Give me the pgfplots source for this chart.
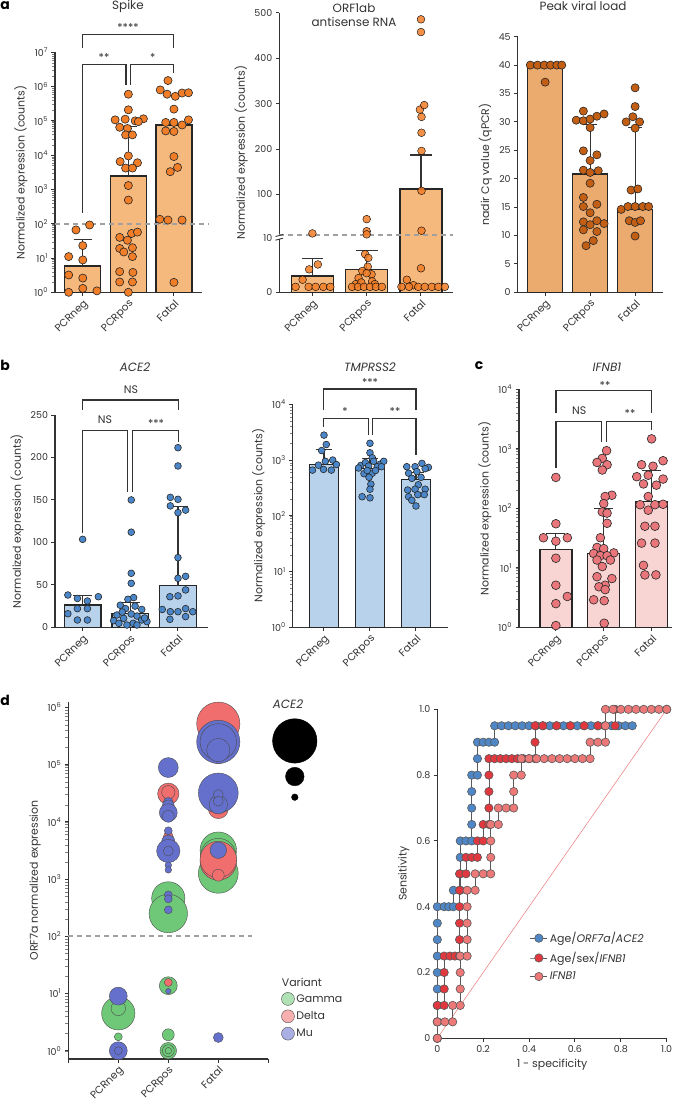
\documentclass[border=0pt]{standalone}
\usepackage{fontspec}
\setmainfont{Poppins}
\usepackage{pgfplots}
\pgfplotsset{compat=1.18}

\definecolor{axgray}{HTML}{333333}
\definecolor{orbar}{HTML}{F5B97D}
\definecolor{orpt}{HTML}{F07D28}
\definecolor{pkbar}{HTML}{EBAA6E}
\definecolor{pkpt}{HTML}{C35F14}
\definecolor{blbar}{HTML}{B9D2EB}
\definecolor{blpt}{HTML}{4B87C8}
\definecolor{ifbar}{HTML}{F8D4D2}
\definecolor{ifpt}{HTML}{E8767A}
\definecolor{dashgray}{HTML}{A0A0A0}
\definecolor{gcol}{HTML}{6EC878}
\definecolor{dcol}{HTML}{F06E6E}
\definecolor{mcol}{HTML}{6470CC}
\definecolor{rocblue}{HTML}{4F86C6}
\definecolor{rocred}{HTML}{E0383E}
\definecolor{rocpink}{HTML}{EC7878}

\newcommand{\tk}{\fontsize{9.5}{10.5}\selectfont}
\newcommand{\xtk}{\fontsize{10.5}{11.5}\selectfont}
\newcommand{\lb}{\fontsize{11}{12}\selectfont}

\pgfplotsset{
  panel/.style={
    scale only axis, anchor=south west,
    axis lines=left,
    axis line style={-, axgray, line width=1.3pt},
    tick align=outside, major tick length=3.5bp,
    major tick style={axgray, line width=1pt},
    tick label style={font=\tk, text=axgray},
    label style={font=\lb, text=axgray},
    /pgf/number format/assume math mode=true,
    clip=false,
  },
  cat/.style={xtick={0,1,2}, xticklabels={PCRneg,PCRpos,Fatal},
    xticklabel style={rotate=45, anchor=north east, inner sep=2bp, font=\xtk}},
  pts/.style={only marks, mark=*, mark size=#1, mark options={draw=black!85, line width=0.6pt}},
  barst/.style={ybar, bar width=#1, draw=black!85, line width=1.4pt},
  errl/.style={black!80, line width=1.1pt, unbounded coords=jump},
  thr/.style={dashgray, line width=1.6pt, dash pattern=on 5bp off 4bp},
}

\begin{document}
\begin{tikzpicture}
\path[use as bounding box] (0,0) rectangle (685bp,-1109bp);

% ---------------- a: Spike
\begin{axis}[panel, cat, at={(55bp,-292.3bp)}, width=146.7bp, height=240bp,
  xmin=-0.61, xmax=2.61, ymode=log, ymin=1, ymax=1e7,
  ytick={1,10,100,1000,1e4,1e5,1e6,1e7},
  yticklabels={10\textsuperscript{0},10\textsuperscript{1},10\textsuperscript{2},10\textsuperscript{3},10\textsuperscript{4},10\textsuperscript{5},10\textsuperscript{6},10\textsuperscript{7}},
  ylabel={Normalized expression (counts)}]
\addplot[barst=36bp, fill=orbar] coordinates {(0,5.9) (1,2500) (2,7.6e4)};
\addplot[errl] coordinates {(0,5.9)(0,34)(0,nan)(-0.2,34)(0.2,34)(0.2,nan)
  (1,2500)(1,7e4)(1,nan)(0.8,7e4)(1.2,7e4)};
\addplot[thr] coordinates {(-0.61,100) (2.75,100)};
\addplot[pts=4.1, fill=orpt] table {
x y
-0.15 66
0.15 92
0 23
-0.31 11
0 8.8
-0.31 3.2
0 2.6
-0.31 1.0
0 1.3
0.31 1.1
1 6e5
1 2.1e5
0.71 1.07e5
0.93 1.12e5
1.15 1.0e5
1.33 1.15e5
1.22 9.5e4
0.81 6.5e4
0.98 6.0e4
0.94 3.9e4
1.09 3.9e4
1 9.5e3
0.82 6.5e3
1.2 6.0e3
0.94 4.2e3
1.09 4.2e3
1 1.3e3
1 490
1.07 52
1.2 57
0.81 40
0.98 33
0.81 19
1.09 20
0.9 15
1.09 11
0.81 4.0
1.1 3.8
0.81 2.0
1.09 2.0
1 1.0
1.87 1.5e6
1.7 8e5
1.85 6e5
2.03 5.2e5
2.18 6.5e5
2.32 6.6e5
2 2.2e5
1.82 9e4
2 9e4
2.18 7.6e4
2.32 1.07e5
1.82 5.1e4
2 4.9e4
2 9.1e3
2.08 4.4e3
1.92 3.3e3
1.69 135
1.87 128
2.18 128
2 1.95
};
\end{axis}

% ---------------- a: ORF1ab antisense (broken axis)
\begin{axis}[panel, cat, at={(279.3bp,-292.3bp)}, width=173.7bp, height=279.3bp,
  xmin=-0.61, xmax=2.59, ymin=0, ymax=500,
  y coord trafo/.code={\pgfmathparse{(#1<=10) ? #1 : 10.45+(#1-10)*0.0831}},
  y coord inv trafo/.code={\pgfmathparse{(#1<=10) ? #1 : 10+(#1-10.45)/0.0831}},
  ytick={0,10,100,200,300,400,500}, yticklabels={0,10,100,200,300,400,500},
  ylabel={Normalized expression (counts)}]
\addplot[barst=42bp, fill=orbar] coordinates {(0,3.0) (1,4.2) (2,111.7)};
\addplot[errl] coordinates {(0,3.0)(0,6.2)(0,nan)(-0.2,6.2)(0.2,6.2)(0.2,nan)
  (1,4.2)(1,7.6)(1,nan)(0.8,7.6)(1.2,7.6)(1.2,nan)
  (2,111.7)(2,187)(2,nan)(1.8,187)(2.2,187)};
\addplot[thr] coordinates {(-0.61,10.2) (2.59,10.2)};
\addplot[pts=3.9, fill=orpt, mark options={fill opacity=0.85}] table {
x y
0 14.1
0.1 5.1
-0.06 4.2
-0.18 2.3
-0.31 1.0
-0.07 1.0
0.06 1.0
0.2 1.0
0.33 1.0
1 45.5
1 19
1 12
0.97 7.0
1.03 6.3
1.02 4.7
0.92 3.9
1.09 3.3
0.85 2.6
1.0 3.5
1.1 2.0
0.8 1.5
0.9 1.8
1.15 1.5
0.73 1.0
0.84 1.0
0.95 1.0
1.06 1.0
1.17 1.0
1.28 1.0
2 486
2 458
1.98 287
2.06 297
2.01 271
2.01 236
2.01 196
2.01 108
2.01 20
2.0 4.4
1.74 2.3
1.86 1.3
1.64 1.0
1.78 1.0
1.95 1.0
2.07 1.0
2.2 1.0
2.32 1.0
2.44 1.0
};
\end{axis}

% ---------------- a: Peak viral load
\begin{axis}[panel, cat, at={(517.7bp,-292.3bp)}, width=145.3bp, height=255.6bp,
  xmin=-0.61, xmax=2.62, ymin=0, ymax=45, ytick={0,5,...,45},
  ylabel={nadir Cq value (qPCR)}]
\addplot[barst=35bp, fill=pkbar] coordinates {(0,40) (1,20.8) (2,14.6)};
\addplot[errl] coordinates {(1,20.8)(1,29.5)(1,nan)(0.85,29.5)(1.15,29.5)(1.15,nan)
  (2,14.6)(2,29)(2,nan)(1.85,29)(2.15,29)};
\addplot[pts=4.1, fill=pkpt] table {
x y
-0.33 40
-0.17 40
-0.02 40
0.12 40
0.26 40
0.37 40
0 37
0.85 31.9
0.69 30.3
0.85 30.2
1 30.5
1.15 31.0
1.31 31.4
1 29.0
0.85 24.9
1.15 24.2
1 23.2
0.85 21.5
1 21.1
1.18 21.4
1 19.2
0.85 16.7
0.85 15.1
1.15 15.5
1 14.0
0.85 12.4
1.15 12.6
1.31 12.1
1 11.9
0.85 11.0
1.15 10.7
1.07 9.1
0.91 8.2
2 36.0
2 32.7
1.8 30.0
1.95 30.9
2.1 30.0
2 28.9
1.91 18.0
2.06 18.2
1.69 14.6
1.84 15.1
2 15.1
2.17 15.1
2.3 15.1
1.87 12.6
2 12.3
2.12 12.6
2 9.9
};
\end{axis}

% ---------------- b: ACE2
\begin{axis}[panel, cat, at={(55bp,-627.3bp)}, width=153bp, height=212.3bp,
  xmin=-0.58, xmax=2.63, ymin=0, ymax=250, ytick={0,50,...,250},
  ylabel={Normalized expression (counts)}]
\addplot[barst=36.5bp, fill=blbar] coordinates {(0,26.3) (1,16.5) (2,49)};
\addplot[errl] coordinates {(0,26.3)(0,37)(0,nan)(-0.2,37)(0.2,37)(0.2,nan)
  (1,16.5)(1,29)(1,nan)(0.8,29)(1.2,29)(1.2,nan)
  (2,49)(2,142)(2,nan)(1.8,142)(2.2,142)};
\addplot[pts=3.4, fill=blpt] table {
x y
0 103.6
-0.31 38
-0.11 34
0.1 31
0.33 36
-0.11 22
0.1 22
-0.31 16
-0.11 8.6
0.1 8.6
1.02 150
1.02 112
1.02 63.6
1.02 51.8
1.07 35
0.95 33
0.79 26
1.1 25
0.9 22
1.24 21
0.72 14.5
1.02 15.7
1.14 13.3
0.86 10.6
0.65 7.8
1.24 8.6
0.76 4.7
1.06 4.7
1.35 6.7
0.93 2.7
1.14 2.7
0.83 18
1.3 11
2 211.5
2 190
1.84 153
2 150.7
1.84 143
2 135
2.16 138
2 82
2 57.7
2.16 60
2.16 44
2 37
1.83 36
1.67 21
2 18.4
1.84 18.4
2.16 22
2.31 18.4
1.83 9.4
2.16 12.6
};
\end{axis}

% ---------------- b: TMPRSS2
\begin{axis}[panel, cat, at={(292.7bp,-627.3bp)}, width=155bp, height=223bp,
  xmin=-0.68, xmax=2.69, ymode=log, ymin=1, ymax=1e4,
  ytick={1,10,100,1000,1e4},
  yticklabels={10\textsuperscript{0},10\textsuperscript{1},10\textsuperscript{2},10\textsuperscript{3},10\textsuperscript{4}},
  ylabel={Normalized expression (counts)}]
\addplot[barst=29bp, fill=blbar] coordinates {(0,830) (1,710) (2,450)};
\addplot[errl] coordinates {(0,830)(0,1560)(0,nan)(-0.18,1560)(0.18,1560)(0.18,nan)
  (1,710)(1,1070)(1,nan)(0.82,1070)(1.18,1070)(1.18,nan)
  (2,450)(2,600)(2,nan)(1.82,600)(2.18,600)};
\addplot[pts=3.4, fill=blpt] table {
x y
0 2800
0.05 1900
-0.05 1480
-0.25 660
-0.12 810
0.03 950
0.19 1000
0.27 830
0.16 660
-0.01 680
1 2000
1 1350
1.05 1100
0.8 800
0.9 900
1.08 950
1.23 850
1.3 950
0.75 720
0.97 780
1.16 760
0.87 570
1.05 580
0.98 490
1.02 370
1.0 300
0.83 220
1 210
1.25 760
0.94 650
1.12 650
1.8 760
1.98 760
2.13 870
2.27 740
1.84 580
2.02 620
2.11 490
1.91 470
2.05 360
1.82 290
1.98 300
2.2 300
1.84 220
2.04 240
2.18 240
2 150
1.91 190
2.2 700
};
\end{axis}

% ---------------- c: IFNB1
\begin{axis}[panel, cat, at={(519bp,-627.3bp)}, width=152.7bp, height=238bp,
  xmin=-0.77, xmax=2.42, ymode=log, ymin=1, ymax=1e4,
  ytick={1,10,100,1000,1e4},
  yticklabels={10\textsuperscript{0},10\textsuperscript{1},10\textsuperscript{2},10\textsuperscript{3},10\textsuperscript{4}},
  ylabel={Normalized expression (counts)}]
\addplot[barst=32bp, fill=ifbar] coordinates {(0,20.5) (1,17.5) (2,130)};
\addplot[errl] coordinates {(0,20.5)(0,38)(0,nan)(-0.2,38)(0.2,38)(0.2,nan)
  (1,17.5)(1,100)(1,nan)(0.8,100)(1.2,100)(1.2,nan)
  (2,130)(2,430)(2,nan)(1.8,430)(2.2,430)};
\addplot[pts=4.4, fill=ifpt] table {
x y
0 330
0 55
-0.26 32
0 28
0.24 32
0 14.5
0 5.1
0.24 3.3
0 2.5
0 1.07
1.06 930
0.97 690
0.86 590
1.07 540
0.97 440
1.17 166
1.03 158
1 120
0.97 87
1.07 83
1.07 56
0.93 32
0.86 22
1 21
0.79 17.4
1.21 17.8
0.93 16
1.07 16
0.86 13.5
1.14 13.5
0.97 10.5
0.86 7.1
1.17 6.6
1.03 5.1
0.9 4.8
1.03 4.3
0.79 2.9
1.01 2.8
1.01 1.17
2 1470
1.79 540
2.03 510
2.24 630
1.69 340
1.93 360
2.24 310
1.83 257
2.1 245
1.93 158
1.76 115
2.07 115
2.24 117
1.93 93
1.86 50
2.07 50
1.79 26
2.07 26
1.83 11
1.86 7.6
2.09 7.6
};
\end{axis}

% ---------------- d: bubble chart
\begin{axis}[panel, at={(68.3bp,-1059bp)}, width=200bp, height=357.3bp,
  xmin=-1, xmax=3, ymode=log, ymin=0.716, ymax=1.26e6,
  xtick={-1,0,1,2,3}, xticklabels={,PCRneg,PCRpos,Fatal,},
  xticklabel style={rotate=45, anchor=north east, inner sep=2bp, font=\xtk},
  ytick={1,10,100,1000,1e4,1e5,1e6},
  yticklabels={10\textsuperscript{0},10\textsuperscript{1},10\textsuperscript{2},10\textsuperscript{3},10\textsuperscript{4},10\textsuperscript{5},10\textsuperscript{6}},
  ylabel={ORF7a normalized expression},
  bub/.style={scatter, only marks, mark=*, point meta=\thisrow{r},
    visualization depends on={\thisrow{r} \as \rr},
    scatter/use mapped color={draw=black!70, fill=#1},
    scatter/@pre marker code/.append style={/tikz/mark size=\rr, /tikz/fill opacity=0.42, /tikz/line width=0.5pt}},
  legend style={at={(axis description cs:1.06,0.19)}, anchor=north west, draw=none, fill=none,
    font=\fontsize{11}{12}\selectfont, row sep=4bp, text=axgray, inner sep=1bp},
  legend cell align=left]
\addplot[thr, forget plot] coordinates {(-1,100) (2.67,100)};
\addplot[bub=gcol, forget plot] table {
x y r
0 4.5 16.7
0 5.5 7.3
0 1.75 4
0 1.0 6
1 460 16.7
1 250 19.3
1 13.7 9
1 1.9 6
1 1.0 8.3
1 1.0 6
1 1.0 3.3
2 1260 20
2 3200 18.3
2 1900 16.7
2 2500 18
};
\addplot[bub=dcol, forget plot] table {
x y r
1 3.1e4 10.7
1 3.3e4 6.7
1 5500 5
1 15.6 4
2 5.2e5 21.7
2 1.66e5 11.7
2 1.7e4 10
2 2000 18.3
2 2200 18.3
2 1170 6
};
\addplot[bub=mcol, forget plot] table {
x y r
0 9 9
0 1.0 9
0 1.0 4
1 8.9e4 10
1 2.2e4 5
1 1.9e4 6
1 1.45e4 9
1 1.25e4 6
1 7000 4
1 4500 6.7
1 3100 11.7
1 3100 5
1 1750 3.3
1 1450 3.3
1 530 4
1 450 4
1 290 4
1 11 2.7
2 2.5e5 21.7
2 2.5e5 18.3
2 1.8e5 11.7
2 3.2e4 20
2 2.0e4 9.3
2 3.0e4 5
2 2.3e4 5
2 3200 8.3
2 1.7 5
};
% ACE2 size key
\addplot[only marks, mark=*, forget plot, scatter, point meta=\thisrow{r},
  visualization depends on={\thisrow{r} \as \rr},
  scatter/use mapped color={draw=black, fill=black},
  scatter/@pre marker code/.append style={/tikz/mark size=\rr}] table {
x y r
3.53 2.6e5 22.3
3.53 6.2e4 9.3
3.53 2.7e4 3.3
};
\addlegendimage{only marks, mark=*, mark size=6.5, mark options={fill=gcol, fill opacity=0.55, draw=black!70}}
\addlegendentry{Gamma}
\addlegendimage{only marks, mark=*, mark size=6.5, mark options={fill=dcol, fill opacity=0.55, draw=black!70}}
\addlegendentry{Delta}
\addlegendimage{only marks, mark=*, mark size=6.5, mark options={fill=mcol, fill opacity=0.55, draw=black!70}}
\addlegendentry{Mu}
\end{axis}

% ---------------- d: ROC
\begin{axis}[panel, at={(437.3bp,-1038.3bp)}, width=229.4bp, height=329bp,
  xmin=0, xmax=1, ymin=0, ymax=1,
  xtick={0,0.2,...,1}, xticklabels={0,0.2,0.4,0.6,0.8,1.0},
  ytick={0,0.2,...,1}, yticklabels={0,0.2,0.4,0.6,0.8,1.0},
  xlabel={1 - specificity}, ylabel={Sensitivity},
  roc/.style={black!65, line width=0.8pt, mark=*, mark size=4.2, mark options={fill=#1, draw=black!65, line width=0.6pt}},
  legend style={at={(axis description cs:0.39,0.335)}, anchor=north west, draw=none, fill=none,
    font=\fontsize{11}{12}\selectfont, row sep=4bp, text=axgray},
  legend cell align=left]
\addplot[rocpink, line width=0.5pt, forget plot] coordinates {(0,0) (1,1)};
\addplot[roc=rocblue] table {
x y
0 0
0 0.05
0 0.10
0 0.15
0 0.20
0 0.25
0 0.30
0 0.35
0 0.40
0.03 0.40
0.05 0.40
0.07 0.40
0.07 0.45
0.10 0.45
0.10 0.50
0.10 0.55
0.10 0.60
0.125 0.60
0.15 0.60
0.15 0.65
0.15 0.70
0.15 0.75
0.15 0.80
0.175 0.80
0.175 0.85
0.175 0.90
0.20 0.90
0.225 0.90
0.25 0.90
0.25 0.95
0.28 0.95
0.31 0.95
0.34 0.95
0.37 0.95
0.40 0.95
0.43 0.95
0.46 0.95
0.49 0.95
0.52 0.95
0.55 0.95
0.58 0.95
0.61 0.95
0.64 0.95
0.67 0.95
0.70 0.95
0.73 0.95
0.76 0.95
0.79 0.95
0.82 0.95
0.85 0.95
};
\addlegendentry{Age/\textit{ORF7a}/\textit{ACE2}}
\addplot[roc=rocred] table {
x y
0 0
0 0.05
0 0.10
0.03 0.10
0.03 0.15
0.03 0.20
0.03 0.25
0.055 0.25
0.077 0.25
0.097 0.25
0.097 0.30
0.097 0.35
0.097 0.40
0.097 0.45
0.097 0.50
0.125 0.50
0.125 0.55
0.15 0.55
0.175 0.55
0.175 0.60
0.20 0.60
0.20 0.65
0.225 0.65
0.225 0.70
0.225 0.75
0.225 0.80
0.225 0.85
0.25 0.85
0.275 0.85
0.30 0.85
0.325 0.85
0.35 0.85
0.375 0.85
0.40 0.85
0.426 0.85
0.426 0.90
0.426 0.95
0.46 0.95
0.52 0.95
0.58 0.95
0.64 0.95
0.70 0.95
0.775 0.95
0.775 1.0
1.0 1.0
};
\addlegendentry{Age/sex/\textit{IFNB1}}
\addplot[roc=rocpink] table {
x y
0 0
0 0.05
0.033 0.05
0.067 0.05
0.067 0.10
0.1 0.10
0.1 0.15
0.1 0.20
0.1 0.25
0.13 0.25
0.13 0.30
0.13 0.35
0.13 0.40
0.13 0.45
0.165 0.45
0.165 0.50
0.2 0.50
0.233 0.50
0.233 0.55
0.233 0.60
0.233 0.65
0.266 0.65
0.266 0.70
0.3 0.70
0.333 0.70
0.333 0.75
0.333 0.80
0.366 0.80
0.366 0.85
0.4 0.85
0.433 0.85
0.466 0.85
0.5 0.85
0.533 0.85
0.566 0.85
0.6 0.85
0.633 0.85
0.666 0.85
0.666 0.90
0.7 0.90
0.733 0.90
0.733 0.95
0.733 1.0
0.766 1.0
0.8 1.0
0.833 1.0
0.866 1.0
0.9 1.0
0.933 1.0
0.966 1.0
1.0 1.0
};
\addlegendentry{\textit{IFNB1}}
\end{axis}

% ---------------- annotations (pixel coordinates, y downwards)
\begin{scope}[x=1bp, y=-1bp, axgray, line width=1.1pt]
  \node[font=\bfseries\fontsize{14}{15}\selectfont, text=black] at (5,6) {a};
  \node[font=\bfseries\fontsize{14}{15}\selectfont, text=black] at (5,365) {b};
  \node[font=\bfseries\fontsize{14}{15}\selectfont, text=black] at (479,366) {c};
  \node[font=\bfseries\fontsize{14}{15}\selectfont, text=black] at (5,700) {d};
  \begin{scope}[every node/.style={font=\fontsize{12}{13}\selectfont, text=axgray}]
    \node at (128,7) {Spike};
    \node[align=center, font=\fontsize{12}{14.5}\selectfont] at (354,15) {ORF1ab\\antisense RNA};
    \node at (583,6) {Peak viral load};
    \node at (135,367) {\itshape ACE2};
    \node at (370,367) {\itshape TMPRSS2};
    \node at (607,367) {\itshape IFNB1};
    \node at (288,704) {\itshape ACE2};
    \node[anchor=west, font=\fontsize{11}{12}\selectfont] at (278,982) {Variant};
  \end{scope}
  \begin{scope}[every node/.style={font=\fontsize{11}{12}\selectfont, text=axgray}]
    \node at (128,27) {****};
    \node at (104,57) {**};
    \node at (152.7,57) {*};
    \node at (131,390) {NS};
    \node at (105,420) {NS};
    \node at (156,423) {***};
    \node at (370,382) {***};
    \node at (345,411) {*};
    \node at (395,411) {**};
    \node at (605,385) {**};
    \node at (579.3,411) {NS};
    \node at (630,413) {**};
  \end{scope}
  % Spike brackets
  \draw (82.7,48) -- (82.7,34.3) -- (173.7,34.3) -- (173.7,48);
  \draw (82.7,213) -- (82.7,64.3) -- (126,64.3) -- (126,85);
  \draw (130.7,85) -- (130.7,64.3) -- (173.7,64.3) -- (173.7,72.7);
  % ACE2 brackets
  \draw (82.7,410) -- (82.7,400) -- (178.3,400) -- (178.3,410);
  \draw (82.7,533.3) -- (82.7,430.7) -- (127.7,430.7) -- (127.7,491.7);
  \draw (132.7,491.7) -- (132.7,430.7) -- (178.3,430.7) -- (178.3,441.7);
  % TMPRSS2 brackets
  \draw (323.3,410) -- (323.3,389) -- (416,389) -- (416,410);
  \draw (323.3,426.7) -- (323.3,418.3) -- (368.3,418.3) -- (368.3,435);
  \draw (372.7,435) -- (372.7,418.3) -- (416,418.3) -- (416,455);
  % IFNB1 brackets
  \draw (556,413.3) -- (556,390.7) -- (651.7,390.7) -- (651.7,413.3);
  \draw (556,468.3) -- (556,421.7) -- (601.7,421.7) -- (601.7,441.7);
  \draw (606.7,441.7) -- (606.7,421.7) -- (651.7,421.7) -- (651.7,430);
  % ORF1ab axis break
  \fill[white] (276,235.6) rectangle (283,239.2);
  \draw[line width=0.9pt] (275.5,236.5) -- (283,234.5);
  \draw[line width=0.9pt] (275.5,240.2) -- (283,238.2);
\end{scope}
\end{tikzpicture}
\end{document}
